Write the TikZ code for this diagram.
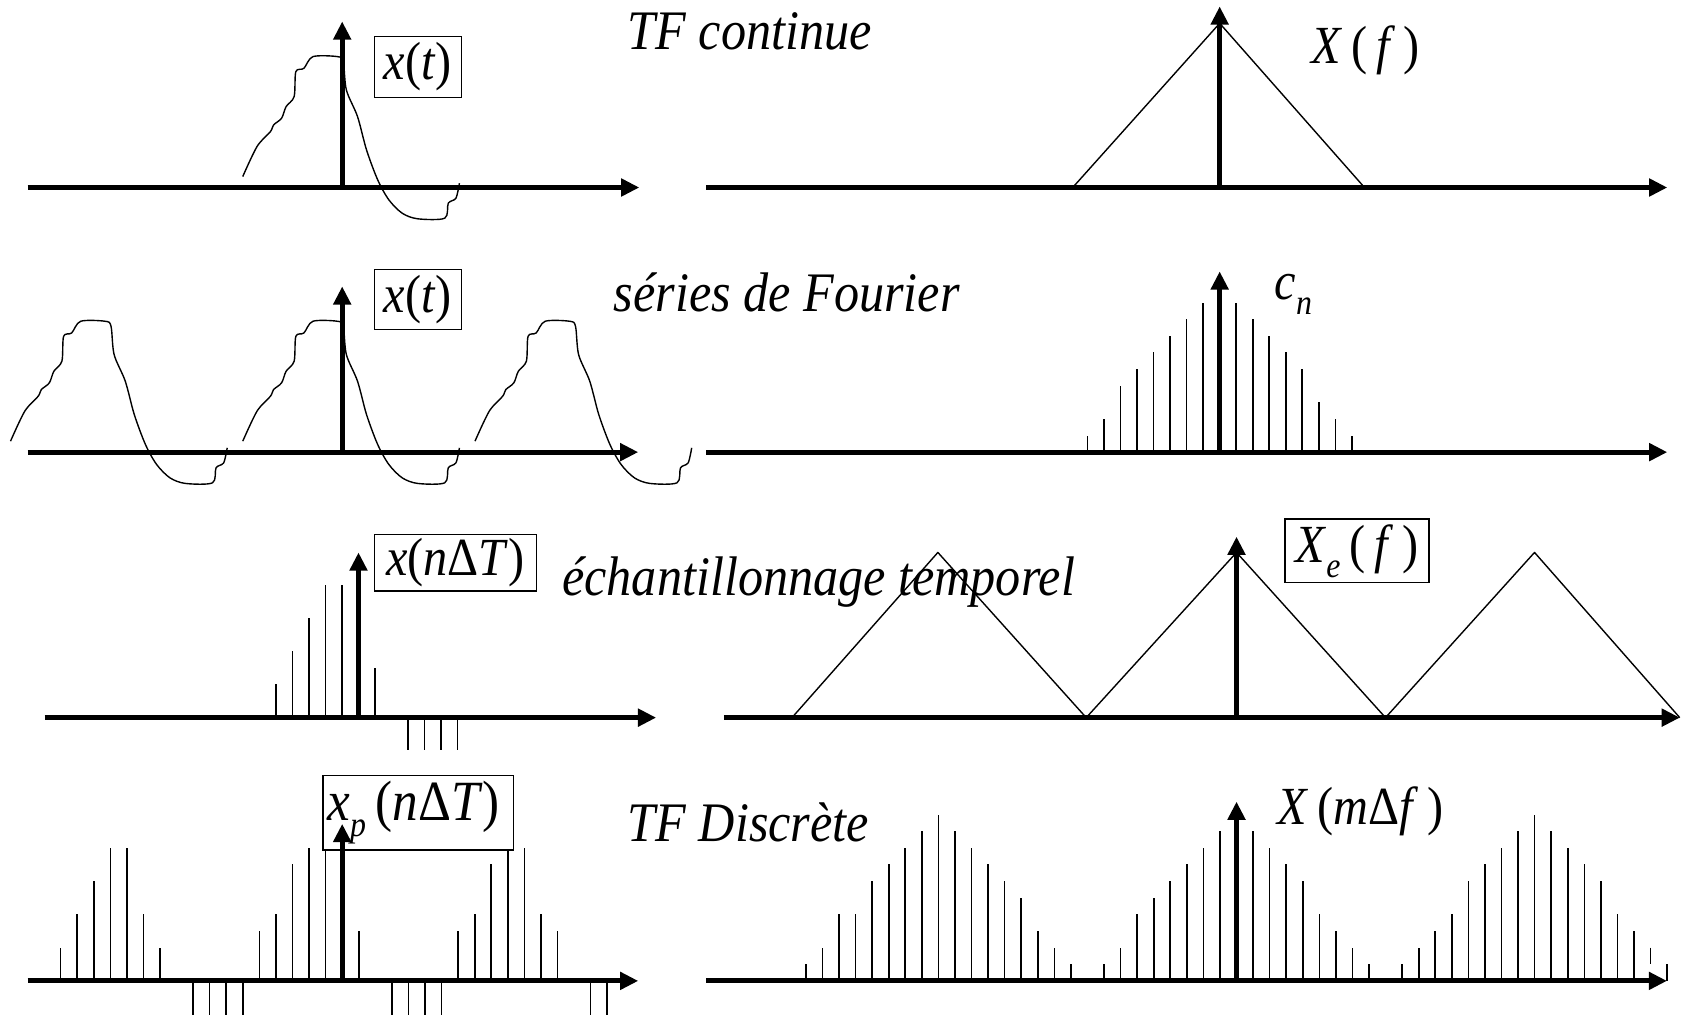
\documentclass[tikz,border=0pt]{standalone}
\usepackage{fontspec}
\setmainfont{Liberation Serif}
\newfontfamily\condfont[FakeStretch=0.9]{Liberation Serif}
\usetikzlibrary{arrows.meta}
\newcommand\lsz{\condfont\fontsize{50}{54}\selectfont}
\newcommand\ssz{\fontsize{33}{36}\selectfont}
\newcommand\mysub[1]{\raisebox{-0.28em}{\ssz\textit{#1}}}
\begin{document}
\begin{tikzpicture}[x=1pt,y=-1pt,
  ax/.style={line width=4.6pt,-{Triangle[length=17pt,width=16pt]}},
  stem/.style={line width=1.5pt},
  sig/.style={line width=1.3pt,line join=round},
  lbox/.style={draw,line width=1.3pt,fill=white,inner sep=0pt},
  ttl/.style={anchor=base west,inner sep=0pt,font=\condfont\fontsize{52}{56}\selectfont\itshape},
  lbl/.style={anchor=base west,inner sep=0pt,font=\lsz}]
\useasboundingbox (0,0) rectangle (1568,949);

\def\sigcurve{plot[smooth,tension=0.5] coordinates {(226.3,164.6) (239.6,136.6) (252.1,122.7) (255,116.5) (262.5,110.2) (266.7,99.4) (274.2,90) (275.8,66.8) (283.3,63.7) (291.7,52.8) (314.6,52.8) (320,57.5) (322.9,83.9) (333.3,108.7) (341.7,139.8) (352.1,167.7) (362.5,186.3) (375,198.8) (389.6,204) (414.6,203.4) (417.9,189.4) (425,184.8) (428.3,170.8)}}

% ---------- coordinates of the axes ----------
\coordinate (a1s) at (25.8,174.8);  \coordinate (a1e) at (596,174.8);
\coordinate (v1b) at (319,174.8);   \coordinate (v1t) at (319,20);
\coordinate (b1s) at (658.4,174.8); \coordinate (b1e) at (1554.3,174.8);
\coordinate (w1b) at (1137,174.8);  \coordinate (w1t) at (1137,6);
\coordinate (a2s) at (25.8,421.5);  \coordinate (a2e) at (595,421.5);
\coordinate (v2b) at (319,421.5);   \coordinate (v2t) at (319,267);
\coordinate (b2s) at (658.4,421.5); \coordinate (b2e) at (1554.3,421.5);
\coordinate (w2b) at (1137,421.5);  \coordinate (w2t) at (1137,253);
\coordinate (a3s) at (41.6,669);    \coordinate (a3e) at (611.7,669);
\coordinate (v3b) at (334.2,669);   \coordinate (v3t) at (334.2,515);
\coordinate (b3s) at (674.8,669);   \coordinate (b3e) at (1566,669);
\coordinate (w3b) at (1152.7,669);  \coordinate (w3t) at (1152.7,500.3);
\coordinate (a4s) at (25.8,914.4);  \coordinate (a4e) at (595,914.4);
\coordinate (v4b) at (319,914.4);   \coordinate (v4t) at (319,768);
\coordinate (b4s) at (658.4,914.4); \coordinate (b4e) at (1554,914.4);
\coordinate (w4b) at (1152.7,914.4);\coordinate (w4t) at (1152.7,747.3);

% ---------- row 1 ----------
\draw[sig] \sigcurve;
\draw[sig] (1000,174.8) -- (1137,21.7) -- (1272,174.8);
\draw[ax] (a1s) -- (a1e);
\draw[ax] (v1b) -- (v1t);
\draw[ax] (b1s) -- (b1e);
\draw[ax] (w1b) -- (w1t);
\node[lbox,minimum width=81pt,minimum height=57pt,font=\lsz] (xt1) at (389.5,62.5) {\textit{x}(\textit{t})};
\node[ttl] (t1) at (585,46) {TF continue};
\node[lbl] (lXf) at (1222,59) {\textit{X}\,(\,\textit{f}\,)};

% ---------- row 2 ----------
\foreach \dx in {-216.5,0,216.5}
  \draw[sig,shift={(\dx,246.7)}] \sigcurve;
\foreach \kk/\hh in {-8/1,-7/2,-6/4,-5/5,-4/6,-3/7,-2/8,-1/9,1/9,2/8,3/7,4/6,5/5,6/3,7/2,8/1}
  \draw[stem] (1137+\kk*15.4,421.5) -- ++(0,-\hh*15.5);
\draw[ax] (a2s) -- (a2e);
\draw[ax] (v2b) -- (v2t);
\draw[ax] (b2s) -- (b2e);
\draw[ax] (w2b) -- (w2t);
\node[lbox,minimum width=81pt,minimum height=56pt,font=\lsz] (xt2) at (389.5,279) {\textit{x}(\textit{t})};
\node[ttl] (t2) at (572,290.5) {séries de Fourier};
\node[lbl] (lcn) at (1188,279) {\textit{c}\mysub{n}};

% ---------- row 3 ----------
\foreach \kk/\hh in {-5/2,-4/4,-3/6,-2/8,-1/8,1/3}
  \draw[stem] (334.2+\kk*15.4,669) -- ++(0,-\hh*15.5);
\foreach \kk in {3,4,5,6}
  \draw[stem] (334.2+\kk*15.4,669) -- ++(0,30);
\draw[sig] (738.3,669) -- (874.3,515) -- (1012.6,669) -- (1152.7,515) -- (1291.6,669) -- (1430.5,515) -- (1565.9,669);
\draw[ax] (a3s) -- (a3e);
\draw[ax] (v3b) -- (v3t);
\draw[ax] (b3s) -- (b3e);
\draw[ax] (w3b) -- (w3t);
\node[lbox,minimum width=151pt,minimum height=53pt,font=\lsz] (xn3) at (424.5,524.5) {\textit{x}(\textit{n}Δ\textit{T})};
\node[lbox,minimum width=134pt,minimum height=59pt,font=\lsz] (Xe3) at (1265,513.5) {\textit{X}\mysub{e}\,(\,\textit{f}\,)};
\node[ttl] (t3) at (524,554.7) {échantillonnage temporel};

% ---------- row 4 ----------
\foreach \kk/\hh in {-17/2,-16/4,-15/6,-14/8,-13/8,-12/4,-11/2,
                     -5/3,-4/4,-3/7,-2/8,-1/8,1/3,
                     7/3,8/4,9/7,10/8,11/8,12/4,13/3}
  \draw[stem] (319+\kk*15.44,914.4) -- ++(0,-\hh*15.5);
\foreach \kk in {-9,-8,-7,-6,3,4,5,6,15,16}
  \draw[stem] (319+\kk*15.44,914.4) -- ++(0,31.5);
\foreach \kk/\hh in {-26/1,-25/2,-24/4,-23/4,-22/6,-21/7,-20/8,-19/9,-18/10,-17/9,-16/8,-15/7,-14/6,-13/5,-12/3,-11/2,-10/1,
                     -8/1,-7/2,-6/4,-5/5,-4/6,-3/7,-2/8,-1/9,1/9,2/8,3/7,4/6,5/4,6/3,7/2,8/1,
                     10/1,11/2,12/3,13/4,14/6,15/7,16/8,17/9,18/10,19/9,20/8,21/7,22/6,23/4,24/3,26/1}
  \draw[stem] (1152.7+\kk*15.44,914.4) -- ++(0,-\hh*15.5);
\draw[stem] (1152.7+25*15.44,914.4-31) -- ++(0,15);
\node[lbox,minimum width=177.5pt,minimum height=69.4pt] (xp4) at (389.75,757.7) {};
\draw[ax] (a4s) -- (a4e);
\draw[ax] (v4b) -- (v4t);
\draw[ax] (b4s) -- (b4e);
\draw[ax] (w4b) -- (w4t);
\node[lbl,font=\condfont\fontsize{53}{56}\selectfont] (lxp) at (305,765) {\textit{x}\mysub{p}\,(\textit{n}Δ\textit{T})};
\node[ttl] (t4) at (585,784.6) {TF Discrète};
\node[lbl] (lXm) at (1191,769) {\textit{X}\,(\textit{m}Δ\textit{f}\,)};
\end{tikzpicture}
\end{document}
